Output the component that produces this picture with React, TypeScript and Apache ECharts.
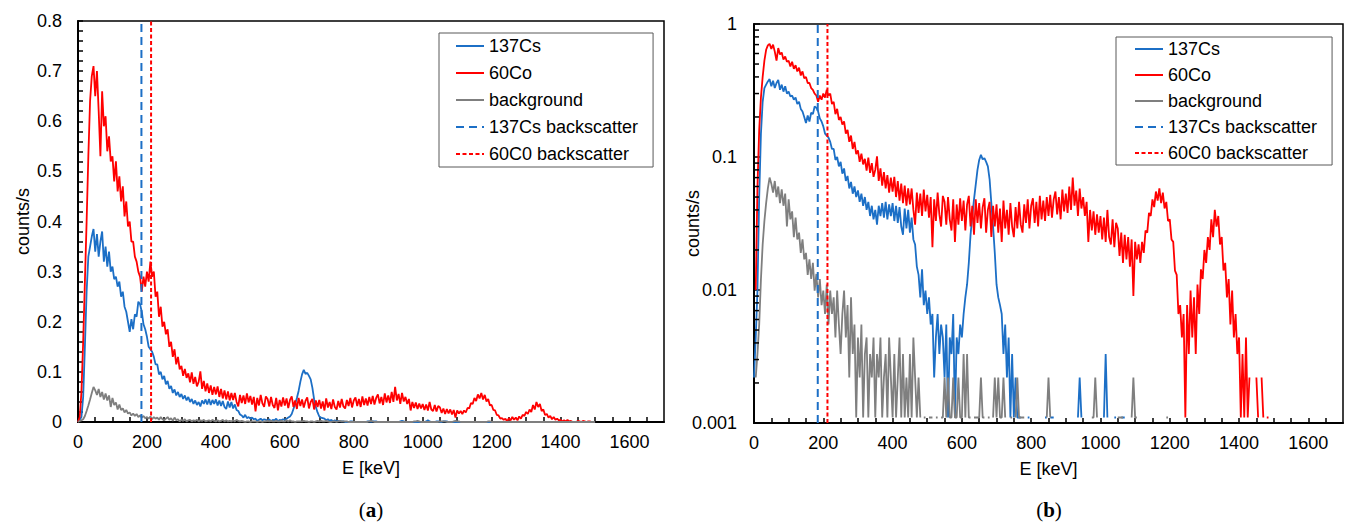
import React, { useEffect, useRef } from 'react';
import * as echarts from 'echarts';

// Spectra sampled every 5 keV, starting at 0 keV (counts/s)
const ENERGY_STEP_KEV = 5;

const cs137: number[] = [
  0.0022, 0.0044, 0.01, 0.05, 0.15, 0.26, 0.33, 0.35, 0.37, 0.385,
  0.34, 0.375, 0.33, 0.36, 0.38, 0.32, 0.35, 0.31, 0.34, 0.30,
  0.31, 0.285, 0.29, 0.27, 0.28, 0.25, 0.26, 0.23, 0.22, 0.20,
  0.18, 0.205, 0.185, 0.215, 0.21, 0.24, 0.235, 0.22, 0.195, 0.185,
  0.17, 0.15, 0.145, 0.14, 0.13, 0.115, 0.115, 0.095, 0.10, 0.085,
  0.092, 0.075, 0.082, 0.066, 0.072, 0.058, 0.065, 0.053, 0.060, 0.050,
  0.056, 0.046, 0.053, 0.043, 0.050, 0.040, 0.046, 0.036, 0.043, 0.034,
  0.040, 0.031, 0.043, 0.036, 0.045, 0.035, 0.046, 0.034, 0.044, 0.036,
  0.045, 0.033, 0.043, 0.032, 0.042, 0.030, 0.026, 0.041, 0.029, 0.040,
  0.027, 0.035, 0.024, 0.022, 0.015, 0.013, 0.0088, 0.0143, 0.0077, 0.0099,
  0.0066, 0.0088, 0.0055, 0.0066, 0.0022, 0.0044, 0.0066, 0.0033, 0.0055, 0.0044,
  0.0022, 0.0055, 0.0011, 0.0044, 0.0033, 0.0066, 0.0011, 0.0044, 0.0033, 0.0055,
  0.0044, 0.0066, 0.0088, 0.011, 0.016, 0.026, 0.036, 0.048, 0.062, 0.080,
  0.095, 0.104, 0.096, 0.098, 0.092, 0.085, 0.068, 0.045, 0.030, 0.019,
  0.011, 0.0088, 0.0077, 0.0066, 0.0033, 0.0055, 0.0022, 0.0044, 0.0011, 0.0033,
  0.0011, 0.0022, 0.0011, 0.0011, 0.0011, 0, 0, 0, 0.0011, 0.0011,
  0, 0, 0, 0, 0, 0, 0, 0, 0.0011, 0.0011,
  0, 0.0011, 0.0011, 0.0011, 0, 0, 0, 0, 0, 0,
  0, 0, 0, 0, 0, 0, 0, 0.0011, 0.0022, 0.0011,
  0, 0, 0, 0, 0, 0, 0, 0, 0, 0,
  0, 0, 0.0011, 0.0033, 0.0011, 0, 0, 0, 0.0011, 0.0011,
  0, 0, 0.0011, 0.0011, 0.0011, 0, 0, 0, 0, 0,
  0, 0, 0, 0, 0, 0, 0, 0, 0, 0,
  0, 0, 0, 0, 0, 0, 0, 0, 0, 0,
  0, 0, 0, 0, 0, 0, 0, 0, 0, 0,
  0, 0, 0, 0, 0, 0, 0, 0, 0, 0,
  0, 0, 0, 0, 0, 0, 0, 0, 0, 0,
  0, 0, 0, 0, 0, 0, 0, 0, 0, 0,
  0, 0, 0, 0, 0, 0, 0, 0, 0, 0,
  0, 0, 0, 0, 0, 0, 0, 0, 0, 0,
  0,
];

const co60: number[] = [
  0, 0.01, 0.06, 0.16, 0.28, 0.40, 0.53, 0.64, 0.69, 0.71,
  0.65, 0.70, 0.62, 0.53, 0.66, 0.59, 0.61, 0.54, 0.57, 0.52,
  0.53, 0.48, 0.52, 0.46, 0.49, 0.44, 0.47, 0.41, 0.44, 0.39,
  0.40, 0.36, 0.36, 0.33, 0.32, 0.30, 0.29, 0.26, 0.29, 0.27,
  0.30, 0.28, 0.32, 0.29, 0.30, 0.25, 0.26, 0.21, 0.23, 0.19,
  0.20, 0.175, 0.185, 0.15, 0.16, 0.13, 0.145, 0.115, 0.13, 0.105,
  0.112, 0.092, 0.106, 0.088, 0.097, 0.079, 0.099, 0.076, 0.090, 0.071,
  0.080, 0.101, 0.066, 0.082, 0.061, 0.077, 0.058, 0.073, 0.054, 0.070,
  0.055, 0.071, 0.050, 0.066, 0.047, 0.063, 0.045, 0.061, 0.043, 0.058,
  0.044, 0.058, 0.040, 0.031, 0.054, 0.038, 0.053, 0.036, 0.057, 0.039,
  0.052, 0.035, 0.050, 0.021, 0.048, 0.033, 0.054, 0.037, 0.030, 0.051,
  0.046, 0.031, 0.050, 0.034, 0.028, 0.048, 0.023, 0.044, 0.031, 0.049,
  0.033, 0.047, 0.028, 0.044, 0.051, 0.030, 0.043, 0.026, 0.048, 0.032,
  0.045, 0.029, 0.042, 0.049, 0.027, 0.040, 0.046, 0.025, 0.043, 0.030,
  0.044, 0.027, 0.041, 0.023, 0.047, 0.029, 0.040, 0.026, 0.045, 0.030,
  0.025, 0.042, 0.029, 0.046, 0.031, 0.027, 0.044, 0.032, 0.048, 0.029,
  0.043, 0.049, 0.032, 0.046, 0.030, 0.051, 0.034, 0.047, 0.033, 0.050,
  0.036, 0.052, 0.035, 0.048, 0.055, 0.037, 0.050, 0.034, 0.057, 0.039,
  0.053, 0.038, 0.060, 0.040, 0.070, 0.043, 0.056, 0.036, 0.058, 0.041,
  0.050, 0.036, 0.046, 0.023, 0.040, 0.028, 0.039, 0.026, 0.037, 0.027,
  0.036, 0.024, 0.035, 0.023, 0.040, 0.025, 0.022, 0.034, 0.021, 0.032,
  0.029, 0.018, 0.027, 0.016, 0.026, 0.017, 0.025, 0.015, 0.024, 0.009,
  0.023, 0.017, 0.022, 0.016, 0.023, 0.019, 0.028, 0.027, 0.038, 0.036,
  0.048, 0.042, 0.055, 0.047, 0.058, 0.045, 0.054, 0.041, 0.046, 0.033,
  0.034, 0.024, 0.023, 0.014, 0.013, 0.0066, 0.0077, 0.0044, 0.0066, 0.0011,
  0.0077, 0.0033, 0.0099, 0.0044, 0.0088, 0.0033, 0.0110, 0.0066, 0.0143, 0.0121,
  0.020, 0.016, 0.025, 0.020, 0.034, 0.025, 0.040, 0.030, 0.036, 0.022,
  0.025, 0.014, 0.016, 0.0088, 0.0121, 0.0055, 0.0099, 0.0044, 0.0066, 0.0033,
  0.0044, 0.0011, 0.0033, 0.0011, 0.0044, 0.0011, 0.0022, 0, 0, 0,
  0.0022, 0.0011, 0, 0.0022, 0.0011, 0, 0.0011, 0.0011, 0, 0,
  0,
];

const background: number[] = [
  0, 0.0022, 0.0033, 0.0055, 0.012, 0.022, 0.033, 0.045, 0.058, 0.070,
  0.063, 0.054, 0.066, 0.050, 0.060, 0.045, 0.057, 0.043, 0.053, 0.030,
  0.048, 0.034, 0.039, 0.025, 0.035, 0.024, 0.027, 0.019, 0.024, 0.017,
  0.019, 0.013, 0.017, 0.0121, 0.016, 0.0099, 0.0132, 0.0088, 0.0121, 0.0077,
  0.0099, 0.0066, 0.0110, 0.0055, 0.0099, 0.0066, 0.0088, 0.0044, 0.0099, 0.0055,
  0.0033, 0.0066, 0.0099, 0.0044, 0.0077, 0.0022, 0.0088, 0.0033, 0.0055, 0.0011,
  0.0044, 0.0022, 0.0055, 0.0011, 0.0033, 0.0044, 0.0011, 0.0033, 0.0022, 0.0044,
  0.0011, 0.0033, 0.0022, 0.0044, 0.0011, 0.0022, 0.0033, 0.0011, 0.0044, 0.0022,
  0.0011, 0.0033, 0.0011, 0.0022, 0.0044, 0.0011, 0.0033, 0.0011, 0.0022, 0.0011,
  0.0033, 0.0011, 0.0044, 0.0022, 0.0011, 0.0022, 0.0011, 0, 0.0011, 0.0011,
  0, 0.0011, 0.0011, 0.0011, 0, 0.0011, 0.0011, 0, 0.0011, 0.0011,
  0.0022, 0.0011, 0.0022, 0.0011, 0.0011, 0.0022, 0.0011, 0.0011, 0.0022, 0.0011,
  0.0011, 0.0033, 0.0011, 0.0033, 0.0011, 0.0011, 0, 0.0011, 0.0011, 0.0011,
  0.0011, 0.0022, 0.0011, 0.0011, 0, 0.0011, 0.0011, 0, 0.0011, 0.0022,
  0.0011, 0.0022, 0.0011, 0.0011, 0.0022, 0.0011, 0, 0, 0.0011, 0.0011,
  0, 0.0011, 0.0022, 0.0011, 0.0011, 0.0011, 0.0011, 0, 0, 0,
  0, 0, 0, 0, 0, 0, 0, 0, 0, 0.0011,
  0.0022, 0.0011, 0, 0, 0, 0, 0, 0, 0, 0,
  0, 0, 0, 0, 0, 0, 0, 0, 0, 0,
  0, 0, 0, 0, 0, 0.0011, 0.0011, 0.0022, 0.0011, 0,
  0, 0, 0, 0, 0, 0, 0, 0, 0, 0,
  0.0011, 0.0011, 0.0011, 0.0011, 0, 0, 0, 0, 0.0011, 0.0022,
  0.0011, 0.0011, 0, 0, 0, 0, 0, 0, 0, 0,
  0, 0, 0, 0, 0, 0, 0, 0, 0.0011, 0.0011,
  0, 0, 0, 0, 0, 0, 0, 0, 0, 0,
  0, 0, 0, 0, 0, 0, 0, 0, 0, 0,
  0, 0, 0, 0, 0, 0, 0, 0, 0, 0,
  0, 0, 0, 0, 0, 0, 0, 0, 0, 0,
  0, 0, 0, 0, 0, 0, 0, 0, 0, 0,
  0, 0, 0, 0, 0, 0, 0, 0, 0, 0,
  0,
];

// Backscatter energies (keV)
const csBackscatterKeV = 184;
const coBackscatterKeV = 212;

// Axis ranges / ticks
const xAxisMaxKeV = 1700;
const xLabelEveryKeV = 200;
const linearYMax = 0.8;
const logYMin = 0.001;
const logYMax = 1;
const logMinorTicks = [
  0.002, 0.003, 0.004, 0.005, 0.006, 0.007, 0.008, 0.009,
  0.02, 0.03, 0.04, 0.05, 0.06, 0.07, 0.08, 0.09,
  0.2, 0.3, 0.4, 0.5, 0.6, 0.7, 0.8, 0.9,
];

const seriesNames = ['137Cs', '60Co', 'background', '137Cs backscatter', '60C0 backscatter'];

const BLUE = '#1C6FC6';
const RED = '#FF0000';
const GRAY = '#7F7F7F';
const FONT = '"Liberation Sans", Arial, Helvetica, sans-serif';
const SERIF = '"Liberation Serif", "Times New Roman", serif';

function toPairs(values: number[], log: boolean) {
  return values.map((v, i) => [i * ENERGY_STEP_KEV, log ? (v > 0 ? v : null) : v]);
}

function buildSeries(gi: number) {
  const log = gi === 1;
  const yLo = log ? logYMin : 0;
  const yHi = log ? logYMax : linearYMax;
  const solid = (name: string, color: string, vals: number[]) => ({
    type: 'line',
    name,
    xAxisIndex: gi,
    yAxisIndex: gi,
    data: toPairs(vals, log),
    symbol: 'none',
    connectNulls: false,
    silent: true,
    lineStyle: { color, width: 1.8 },
    itemStyle: { color },
  });
  const dashed = (name: string, color: string, e: number, dash: number[]) => ({
    type: 'line',
    name,
    xAxisIndex: gi,
    yAxisIndex: gi,
    data: [[e, yLo], [e, yHi]],
    symbol: 'none',
    silent: true,
    lineStyle: { color, width: 2, type: dash },
    itemStyle: { color },
    z: 3,
  });
  return [
    solid('137Cs', BLUE, cs137),
    solid('60Co', RED, co60),
    solid('background', GRAY, background),
    dashed('137Cs backscatter', BLUE, csBackscatterKeV, [8, 5]),
    dashed('60C0 backscatter', RED, coBackscatterKeV, [4, 2.5]),
  ];
}

function xAxis(gi: number) {
  return {
    type: 'value',
    gridIndex: gi,
    min: 0,
    max: xAxisMaxKeV,
    interval: 50,
    axisLine: { show: true, onZero: false, lineStyle: { color: '#000', width: 2 } },
    axisTick: { show: true, inside: true, length: 5, lineStyle: { color: '#000', width: 1.5 } },
    axisLabel: {
      color: '#000',
      fontSize: 18,
      fontFamily: FONT,
      margin: 11,
      showMaxLabel: false,
      formatter: (v: number) => (v % xLabelEveryKeV === 0 ? String(v) : ''),
    },
    splitLine: { show: false },
    name: 'E [keV]',
    nameLocation: 'middle',
    nameGap: 37,
    nameMoveOverlap: false,
    nameTextStyle: { color: '#000', fontSize: 18, fontFamily: FONT },
  };
}

function legend(left: number, top: number, gap: number, padding: number[]) {
  return {
    data: seriesNames,
    orient: 'vertical',
    left,
    top,
    padding,
    itemWidth: 28,
    itemHeight: 12,
    itemGap: gap,
    borderColor: '#595959',
    borderWidth: 1,
    selectedMode: false,
    itemStyle: { opacity: 0, borderWidth: 0 },
    lineStyle: { width: 2 },
    textStyle: { color: '#000', fontSize: 18, fontFamily: FONT, lineHeight: 20 },
  };
}

function caption(x: number, letter: string) {
  return {
    type: 'text',
    x,
    y: 510,
    style: {
      text: '({b|' + letter + '})',
      fontSize: 21,
      fontFamily: SERIF,
      fill: '#000',
      align: 'center',
      verticalAlign: 'middle',
      rich: { b: { fontWeight: 'bold', fontSize: 21, fontFamily: SERIF } },
    },
  };
}

export default function App() {
  const ref = useRef<HTMLDivElement>(null);

  useEffect(() => {
    if (!ref.current) return;
    const chart = echarts.init(ref.current, undefined, { renderer: 'svg' });
    const option: any = {
      animation: false,
      textStyle: { fontFamily: FONT },
      grid: [
        { left: 78, top: 21, width: 586, height: 401, show: true, borderColor: '#000', borderWidth: 1.5, backgroundColor: 'transparent' },
        { left: 754, top: 24, width: 589, height: 399, show: true, borderColor: '#000', borderWidth: 1.5, backgroundColor: 'transparent' },
      ],
      xAxis: [xAxis(0), xAxis(1)],
      yAxis: [
        {
          type: 'value',
          gridIndex: 0,
          min: 0,
          max: linearYMax,
          interval: 0.1,
          axisLine: { show: true, onZero: false, lineStyle: { color: '#000', width: 2 } },
          axisTick: { show: true, inside: true, length: 5, lineStyle: { color: '#000', width: 1.5 } },
          minorTick: { show: true, splitNumber: 5, length: 5, lineStyle: { color: '#000', width: 1.5 } },
          axisLabel: { color: '#000', fontSize: 18, fontFamily: FONT, margin: 16 },
          splitLine: { show: false },
          name: 'counts/s',
          nameLocation: 'middle',
          nameGap: 46,
          nameMoveOverlap: false,
          nameTextStyle: { color: '#000', fontSize: 18, fontFamily: FONT },
        },
        {
          type: 'log',
          logBase: 10,
          gridIndex: 1,
          min: logYMin,
          max: logYMax,
          axisLine: { show: true, onZero: false, lineStyle: { color: '#000', width: 2 } },
          axisTick: { show: true, inside: true, length: 6, lineStyle: { color: '#000', width: 1.5 } },
          axisLabel: {
            color: '#000',
            fontSize: 18,
            fontFamily: FONT,
            margin: 17,
            formatter: (v: number) => String(Number(Number(v).toPrecision(1))),
          },
          splitLine: { show: false },
          name: 'counts/s',
          nameLocation: 'middle',
          nameGap: 52,
          nameMoveOverlap: false,
          nameTextStyle: { color: '#000', fontSize: 18, fontFamily: FONT },
        },
      ],
      legend: [
        legend(439, 33, 7, [3, 15, 3, 16]),
        legend(1116, 37, 6, [2, 15, 2, 18]),
      ],
      series: [
        ...buildSeries(0),
        ...buildSeries(1),
        {
          type: 'custom',
          name: 'logMinorTicks',
          xAxisIndex: 1,
          yAxisIndex: 1,
          silent: true,
          clip: false,
          z: 10,
          data: logMinorTicks.map((v) => [0, v]),
          renderItem: (_params: any, api: any) => {
            const p = api.coord([0, api.value(1)]);
            return {
              type: 'line',
              shape: { x1: p[0], y1: p[1], x2: p[0] + 5, y2: p[1] },
              style: { stroke: '#000', lineWidth: 1.5 },
            };
          },
        },
      ],
      graphic: [caption(371, 'a'), caption(1049, 'b')],
    };
    chart.setOption(option);
    return () => chart.dispose();
  }, []);

  return (
    <div
      ref={ref}
      style={{ position: 'fixed', left: 0, top: 0, width: 1347, height: 528, background: '#fff' }}
    />
  );
}
